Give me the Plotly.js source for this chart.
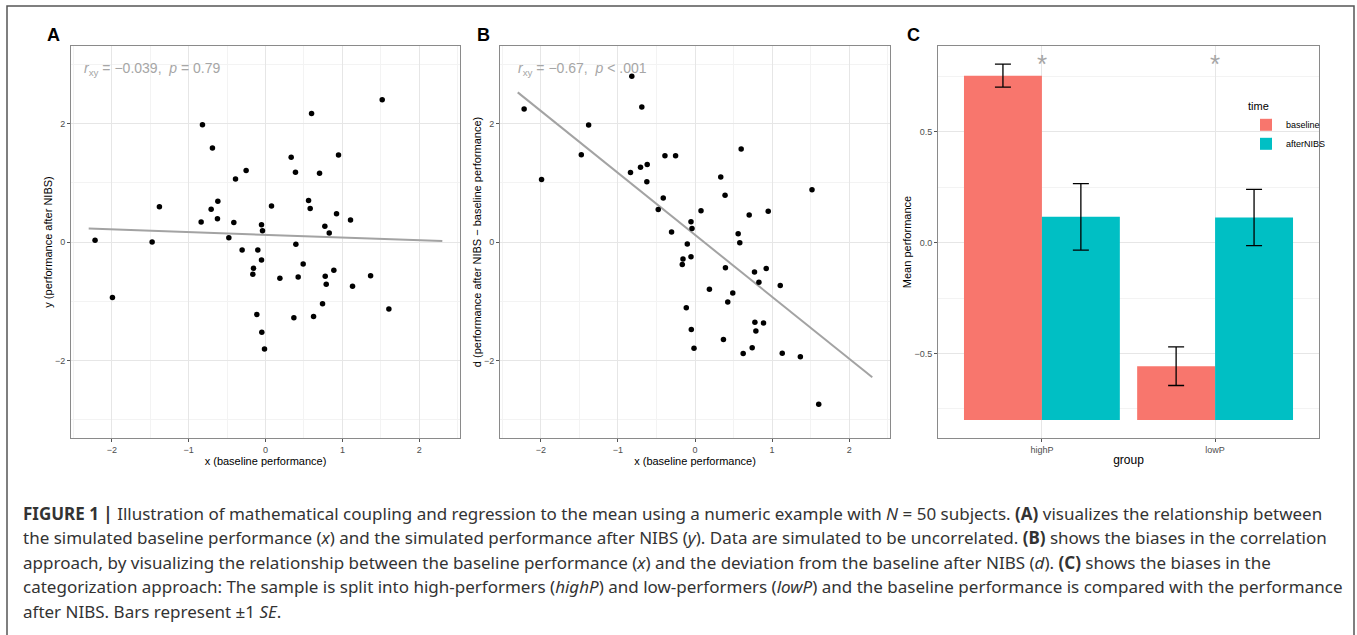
<!DOCTYPE html>
<html>
<head>
<meta charset="utf-8">
<script src="https://cdn.plot.ly/plotly-3.0.1.min.js"></script>
<style>html,body{margin:0;padding:0;background:#fff;}#chart{width:1357px;height:635px;}</style>
</head>
<body>
<div id="chart"></div>
<script>
// ---- data ----
const xBaseline = [-2.217,-1.991,-1.475,-1.380,-0.837,-0.820,-0.707,-0.690,-0.620,-0.625,-0.477,-0.412,-0.390,-0.304,-0.252,-0.156,-0.165,-0.113,-0.100,-0.052,-0.039,-0.052,-0.048,-0.013,0.078,0.187,0.334,0.369,0.390,0.395,0.425,0.490,0.560,0.581,0.599,0.625,0.703,0.742,0.772,0.777,0.790,0.829,0.889,0.924,0.950,1.106,1.132,1.367,1.518,1.605];
const yAfterNIBS = [0.028,-0.937,0.000,0.595,0.337,1.980,0.555,1.588,0.690,0.393,0.073,0.331,1.066,-0.135,1.206,-0.443,-0.544,-1.223,-0.135,0.292,0.191,-0.303,-1.526,-1.806,0.606,-0.612,1.431,-1.279,1.178,-0.039,-0.589,-0.370,0.701,0.567,2.171,-1.257,1.161,-1.043,0.264,-0.578,-0.712,0.151,-0.477,0.477,1.470,0.370,-0.746,-0.572,2.401,-1.133];
const fitRange = [-2.3, 2.3];

const groups = ['highP', 'lowP'];
const timeLevels = ['baseline', 'afterNIBS'];
const meanBaseline = [0.754, -0.557];
const seBaseline = [0.052, 0.087];
const meanAfter = [0.117, 0.114];
const seAfter = [0.150, 0.127];
const barBase = -0.8;
const sigMarks = ['*', '*'];

const statTextA = '<i>r</i><sub>xy</sub> = −0.039,  <i>p</i> = 0.79';
const statTextB = '<i>r</i><sub>xy</sub> = −0.67,  <i>p</i> < .001';

const captionLines = [
  '<b>FIGURE 1 |</b> Illustration of mathematical coupling and regression to the mean using a numeric example with <i>N</i> = 50 subjects. <b>(A)</b> visualizes the relationship between',
  'the simulated baseline performance (<i>x</i>) and the simulated performance after NIBS (<i>y</i>). Data are simulated to be uncorrelated. <b>(B)</b> shows the biases in the correlation',
  'approach, by visualizing the relationship between the baseline performance (<i>x</i>) and the deviation from the baseline after NIBS (<i>d</i>). <b>(C)</b> shows the biases in the',
  'categorization approach: The sample is split into high-performers (<i>highP</i>) and low-performers (<i>lowP</i>) and the baseline performance is compared with the performance',
  'after NIBS. Bars represent ±1 <i>SE</i>.'
];

// ---- derived ----
const dDeviation = xBaseline.map((x, i) => yAfterNIBS[i] - x);
function olsLine(xs, ys) {
  const n = xs.length;
  const mx = xs.reduce((a, b) => a + b, 0) / n;
  const my = ys.reduce((a, b) => a + b, 0) / n;
  let sxy = 0, sxx = 0;
  for (let i = 0; i < n; i++) { sxy += (xs[i] - mx) * (ys[i] - my); sxx += (xs[i] - mx) ** 2; }
  const b = sxy / sxx, a = my - b * mx;
  return fitRange.map(x => a + b * x);
}

// ---- layout geometry (pixels -> paper) ----
const W = 1357, H = 635;
const px = v => v / W, py = v => 1 - v / H;
const FONT = 'Liberation Sans, Arial, Helvetica, sans-serif';
const CAPFONT = 'Noto Sans, Liberation Sans, Arial, sans-serif';
const tickFont = {family: FONT, size: 9, color: '#4d4d4d'};
const titleFont = {family: FONT, size: 11, color: '#000'};
const yDom = [py(438), py(46)];

function scatterAxisX(domain) {
  return {
    domain: domain, range: [-2.53, 2.53], tickvals: [-2, -1, 0, 1, 2],
    showgrid: true, gridcolor: '#e6e6e6', gridwidth: 1, zeroline: false,
    minor: {dtick: 0.5, tick0: 0, showgrid: true, gridcolor: '#f3f3f3', gridwidth: 1},
    ticks: 'outside', ticklen: 3, tickcolor: '#555', tickfont: tickFont,
    showline: true, mirror: true, linecolor: '#8a8a8a', linewidth: 1,
    title: {text: 'x (baseline performance)', font: titleFont, standoff: 1},
    fixedrange: true
  };
}
function scatterAxisY(domain, title) {
  return {
    domain: domain, range: [-3.31, 3.31], tickvals: [-2, 0, 2],
    showgrid: true, gridcolor: '#e6e6e6', gridwidth: 1, zeroline: false,
    minor: {dtick: 1, tick0: 0, showgrid: true, gridcolor: '#f3f3f3', gridwidth: 1},
    ticks: 'outside', ticklen: 3, tickcolor: '#555', tickfont: tickFont,
    showline: true, mirror: true, linecolor: '#8a8a8a', linewidth: 1,
    title: {text: title, font: titleFont, standoff: 0},
    fixedrange: true
  };
}

const traces = [
  {x: fitRange, y: olsLine(xBaseline, yAfterNIBS), xaxis: 'x', yaxis: 'y', mode: 'lines',
   line: {color: '#a3a3a3', width: 2}, showlegend: false, hoverinfo: 'skip'},
  {x: xBaseline, y: yAfterNIBS, xaxis: 'x', yaxis: 'y', mode: 'markers',
   marker: {color: '#000', size: 5.5}, showlegend: false},
  {x: fitRange, y: olsLine(xBaseline, dDeviation), xaxis: 'x2', yaxis: 'y2', mode: 'lines',
   line: {color: '#a3a3a3', width: 2}, showlegend: false, hoverinfo: 'skip'},
  {x: xBaseline, y: dDeviation, xaxis: 'x2', yaxis: 'y2', mode: 'markers',
   marker: {color: '#000', size: 5.5}, showlegend: false},
  {type: 'bar', name: timeLevels[0], x: groups, y: meanBaseline.map(v => v - barBase), base: barBase,
   xaxis: 'x3', yaxis: 'y3', marker: {color: '#F8766D', line: {width: 0}},
   error_y: {type: 'data', array: seBaseline, color: '#000', thickness: 1.3, width: 8}},
  {type: 'bar', name: timeLevels[1], x: groups, y: meanAfter.map(v => v - barBase), base: barBase,
   xaxis: 'x3', yaxis: 'y3', marker: {color: '#00BFC4', line: {width: 0}},
   error_y: {type: 'data', array: seAfter, color: '#000', thickness: 1.3, width: 8}}
];

const labelFont = {family: FONT, size: 18, color: '#000'};
const statFont = {family: FONT, size: 14, color: '#a6a6a6'};
const annotations = [
  {text: '<b>A</b>', x: px(53), y: py(35), xref: 'paper', yref: 'paper', xanchor: 'center', yanchor: 'middle', showarrow: false, font: labelFont},
  {text: '<b>B</b>', x: px(483), y: py(35), xref: 'paper', yref: 'paper', xanchor: 'center', yanchor: 'middle', showarrow: false, font: labelFont},
  {text: '<b>C</b>', x: px(913), y: py(35), xref: 'paper', yref: 'paper', xanchor: 'center', yanchor: 'middle', showarrow: false, font: labelFont},
  {text: statTextA, x: px(82), y: py(69), xref: 'paper', yref: 'paper', xanchor: 'left', yanchor: 'middle', showarrow: false, font: statFont},
  {text: statTextB, x: px(516), y: py(69), xref: 'paper', yref: 'paper', xanchor: 'left', yanchor: 'middle', showarrow: false, font: statFont}
];
groups.forEach((g, i) => annotations.push({
  text: sigMarks[i], x: g, y: 0.805, xref: 'x3', yref: 'y3', showarrow: false, xanchor: 'center', yanchor: 'middle',
  font: {family: FONT, size: 26, color: '#a6a6a6'}
}));
captionLines.forEach((t, i) => annotations.push({
  text: t, x: px(21), y: py(513 + i * 24.5), xref: 'paper', yref: 'paper', xanchor: 'left', yanchor: 'middle',
  showarrow: false, font: {family: CAPFONT, size: 17, color: '#333'}
}));

const layout = {
  width: W, height: H, autosize: false,
  margin: {l: 0, r: 0, t: 0, b: 0},
  paper_bgcolor: '#fff', plot_bgcolor: '#fff',
  font: {family: FONT},
  barmode: 'group', bargap: 0.1, bargroupgap: 0,
  xaxis: scatterAxisX([px(71), px(460)]),
  yaxis: scatterAxisY(yDom, 'y (performance after NIBS)'),
  xaxis2: Object.assign(scatterAxisX([px(500), px(890)]), {anchor: 'y2'}),
  yaxis2: Object.assign(scatterAxisY(yDom, 'd (performance after NIBS − baseline performance)'), {anchor: 'x2'}),
  xaxis3: {
    domain: [px(938), px(1319)], anchor: 'y3', type: 'category', range: [-0.6, 1.6],
    showgrid: true, gridcolor: '#e6e6e6', gridwidth: 1, zeroline: false,
    ticks: 'outside', ticklen: 3, tickcolor: '#555', tickfont: tickFont,
    showline: true, mirror: true, linecolor: '#8a8a8a', linewidth: 1,
    title: {text: 'group', font: {family: FONT, size: 12, color: '#000'}, standoff: 1}, fixedrange: true
  },
  yaxis3: {
    domain: yDom, anchor: 'x3', range: [-0.881, 0.888], tickvals: [-0.5, 0, 0.5], tickformat: '.1f',
    showgrid: true, gridcolor: '#e6e6e6', gridwidth: 1, zeroline: false,
    minor: {dtick: 0.25, tick0: 0, showgrid: true, gridcolor: '#f3f3f3', gridwidth: 1},
    ticks: 'outside', ticklen: 3, tickcolor: '#555', tickfont: tickFont,
    showline: true, mirror: true, linecolor: '#8a8a8a', linewidth: 1,
    title: {text: 'Mean performance', font: titleFont, standoff: 0}, fixedrange: true
  },
  legend: {
    x: px(1246), y: py(96), xanchor: 'left', yanchor: 'top', bgcolor: 'rgba(0,0,0,0)',
    title: {text: 'time', font: {family: FONT, size: 11, color: '#000'}},
    font: {family: FONT, size: 9, color: '#000'}, tracegroupgap: 0, itemwidth: 30
  },
  shapes: [
    {type: 'path', xref: 'paper', yref: 'paper',
     path: `M ${px(7)},${py(640)} L ${px(7)},${py(6)} L ${px(1354)},${py(6)} L ${px(1354)},${py(640)}`,
     line: {color: '#555', width: 1.5}}
  ],
  annotations: annotations,
  showlegend: true
};

Plotly.newPlot('chart', traces, layout, {displayModeBar: false, staticPlot: true});
</script>
</body>
</html>
